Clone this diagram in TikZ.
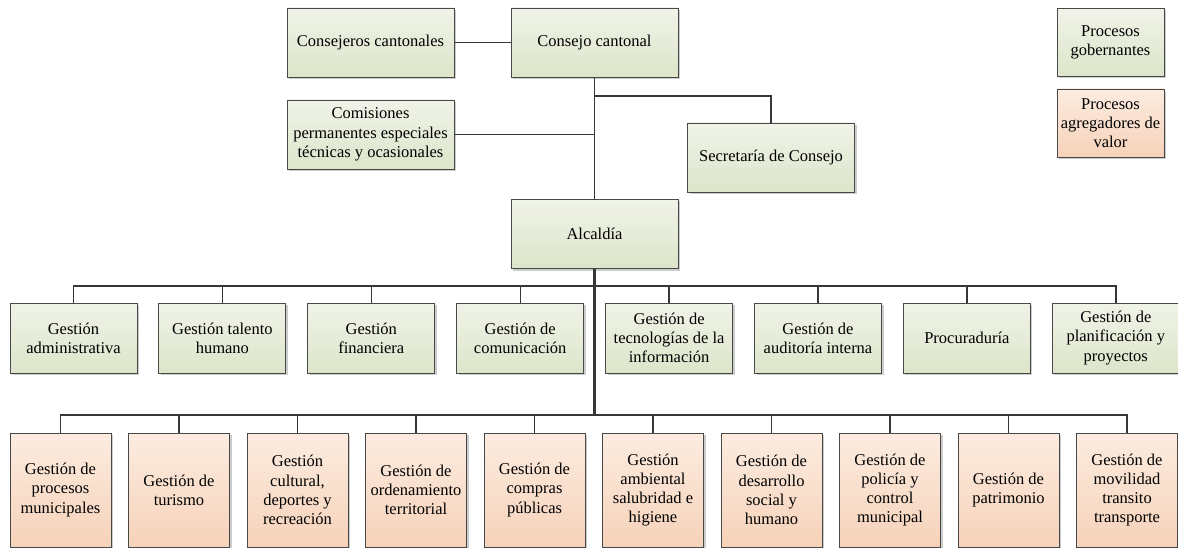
\documentclass[tikz,border=0pt]{standalone}
\usepackage{fontspec}
\setmainfont{Liberation Serif}
\usepackage{tikz}
\usetikzlibrary{positioning, shadows}
\definecolor{govTop}{RGB}{240,243,232}
\definecolor{govBottom}{RGB}{220,229,202}
\definecolor{valTop}{RGB}{252,236,224}
\definecolor{valBottom}{RGB}{246,210,185}
\definecolor{boxLine}{RGB}{72,72,72}
\definecolor{linkLine}{RGB}{55,55,55}
\tikzset{org-line/.style={draw=linkLine, line width=1.4pt}}
\tikzset{spine-line/.style={org-line, line width=2.2pt}}
\tikzset{org-box/.style={
    draw=boxLine,
    line width=0.9pt,
    align=center,
    inner sep=2pt,
    font=\fontsize{16.5}{19.3}\selectfont,
    drop shadow={shadow xshift=2pt, shadow yshift=-2pt, opacity=0.2, fill=black}
}}
\tikzset{gov-box/.style={org-box, top color=govTop, bottom color=govBottom}}
\tikzset{val-box/.style={org-box, top color=valTop, bottom color=valBottom}}
\tikzset{top-box/.style={gov-box, minimum width=167pt, minimum height=69pt}}
\tikzset{key-box/.style={minimum width=107pt, minimum height=68pt}}
\tikzset{row-box/.style={gov-box, minimum width=127pt, minimum height=70pt}}
\tikzset{low-box/.style={val-box, minimum width=101pt, minimum height=114pt}}

\begin{document}
\begin{tikzpicture}[x=1pt, y=-1pt]
    \useasboundingbox (0,0) rectangle (1178,548);

    % council level
    \node[top-box] (consejo) at (594.5,42.5) {Consejo cantonal};
    \node[top-box] (consejeros) at (370.5,42.5) {Consejeros cantonales};
    \node[top-box] (comisiones) at (370.5,134.5) {Comisiones\\permanentes especiales\\técnicas y ocasionales};
    \node[top-box] (secretaria) at (771,157.5) {Secretaría de Consejo};
    \node[top-box] (alcaldia) at (594.5,234) {Alcaldía};

    % legend
    \node[gov-box, key-box] (keygov) at (1110.5,42.5) {Procesos\\gobernantes};
    \node[val-box, key-box] (keyval) at (1110.5,123) {Procesos\\agregadores de\\valor};

    % support row
    \node[row-box] (adm) at (73.5,338) {Gestión\\administrativa};
    \node[row-box, right=21pt of adm] (tal) {Gestión talento\\humano};
    \node[row-box, right=21pt of tal] (fin) {Gestión\\financiera};
    \node[row-box, right=21pt of fin] (com) {Gestión de\\comunicación};
    \node[row-box, right=21pt of com] (tec) {Gestión de\\tecnologías de la\\información};
    \node[row-box, right=21pt of tec] (aud) {Gestión de\\auditoría interna};
    \node[row-box, right=21pt of aud] (pro) {Procuraduría};
    \node[row-box, right=21pt of pro] (pla) {Gestión de\\planificación y\\proyectos};

    % value row
    \node[low-box] (mun) at (60.5,490) {Gestión de\\procesos\\municipales};
    \node[low-box, right=16.6pt of mun] (tur) {Gestión de\\turismo};
    \node[low-box, right=16.6pt of tur] (cul) {Gestión\\cultural,\\deportes y\\recreación};
    \node[low-box, right=16.6pt of cul] (ord) {Gestión de\\ordenamiento\\territorial};
    \node[low-box, right=16.6pt of ord] (cpr) {Gestión de\\compras\\públicas};
    \node[low-box, right=16.6pt of cpr] (amb) {Gestión\\ambiental\\salubridad e\\higiene};
    \node[low-box, right=16.6pt of amb] (des) {Gestión de\\desarrollo\\social y\\humano};
    \node[low-box, right=16.6pt of des] (pol) {Gestión de\\policía y\\control\\municipal};
    \node[low-box, right=16.6pt of pol] (pat) {Gestión de\\patrimonio};
    \node[low-box, right=16.6pt of pat] (mov) {Gestión de\\movilidad\\transito\\transporte};

    \coordinate (sec-tap) at (594.5,96);
    \coordinate (bus-top) at (594.5,286);
    \coordinate (bus-low) at (594.5,415);

    % links
    \draw[org-line] (consejeros) -- (consejo);
    \draw[org-line] (consejo.south) -- (alcaldia.north);
    \draw[org-line] (secretaria.north) |- (sec-tap);
    \draw[org-line] (comisiones.east) -- (comisiones.east -| sec-tap);
    \draw[spine-line] (alcaldia.south) -- (bus-low);
    \foreach \n in {adm, tal, fin, com, tec, aud, pro, pla}
        \draw[org-line] (\n.north) |- (bus-top);
    \foreach \n in {mun, tur, cul, ord, cpr, amb, des, pol, pat, mov}
        \draw[org-line] (\n.north) |- (bus-low);
\end{tikzpicture}
\end{document}
